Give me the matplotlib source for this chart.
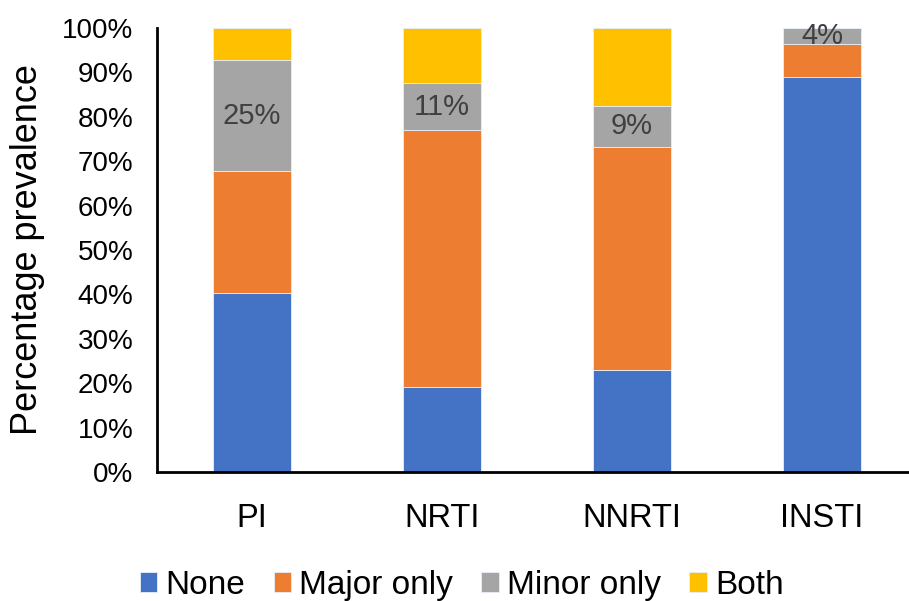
import matplotlib.pyplot as plt
import numpy as np

plt.rcParams['font.family'] = ['Liberation Sans', 'DejaVu Sans']

categorias = ['PI', 'NRTI', 'NNRTI', 'INSTI']
series = ['None', 'Major only', 'Minor only', 'Both']
none_vals = [40.3, 19.1, 22.9, 88.9]
major_vals = [27.5, 57.9, 50.4, 7.4]
minor_vals = [24.9, 10.6, 9.2, 3.7]
both_vals = [7.3, 12.4, 17.5, 0.0]
colores = ['#4472C4', '#ED7D31', '#A5A5A5', '#FFC000']
etiquetas_minor = ['25%', '11%', '9%', '4%']

fig = plt.figure(figsize=(9.09, 6.01), dpi=100)
ax = fig.add_axes([0.1727, 0.2146, 0.836, 0.7388])

x = np.arange(len(categorias))
base = np.zeros(len(categorias))
valores = [none_vals, major_vals, minor_vals, both_vals]
for i in range(len(series)):
    ax.bar(x, valores[i], 0.41, bottom=base, color=colores[i],
           label=series[i], edgecolor='#E8EEF8', linewidth=0.6)
    if series[i] == 'Minor only':
        for j in range(len(categorias)):
            ax.text(x[j], base[j] + valores[i][j] / 2, etiquetas_minor[j],
                    ha='center', va='center', fontsize=21, color='#404040')
    base = base + np.array(valores[i])

ax.set_xlim(-0.5, 3.5)
ax.set_ylim(0, 100)
ax.set_yticks(np.arange(0, 101, 10))
ax.set_yticklabels([f'{v}%' for v in range(0, 101, 10)], fontsize=20)
ax.set_xticks(x)
ax.set_xticklabels(categorias, fontsize=23.5)
ax.tick_params(axis='y', length=0, pad=17)
ax.tick_params(axis='x', length=0, pad=22)
ax.set_ylabel('Percentage prevalence', fontsize=26)
ax.yaxis.set_label_coords(-0.147, 0.5)

for lado in ['top', 'right']:
    ax.spines[lado].set_visible(False)
for lado in ['left', 'bottom']:
    ax.spines[lado].set_linewidth(2)
    ax.spines[lado].set_color('black')

ax.legend(loc='center', bbox_to_anchor=(0.508, 0.026), bbox_transform=fig.transFigure,
          ncol=4, frameon=False, fontsize=24, handlelength=0.52, handleheight=0.52,
          handletextpad=0.25, columnspacing=0.85, borderaxespad=0.0, borderpad=0.0)

fig.savefig('out.png', dpi=100)
